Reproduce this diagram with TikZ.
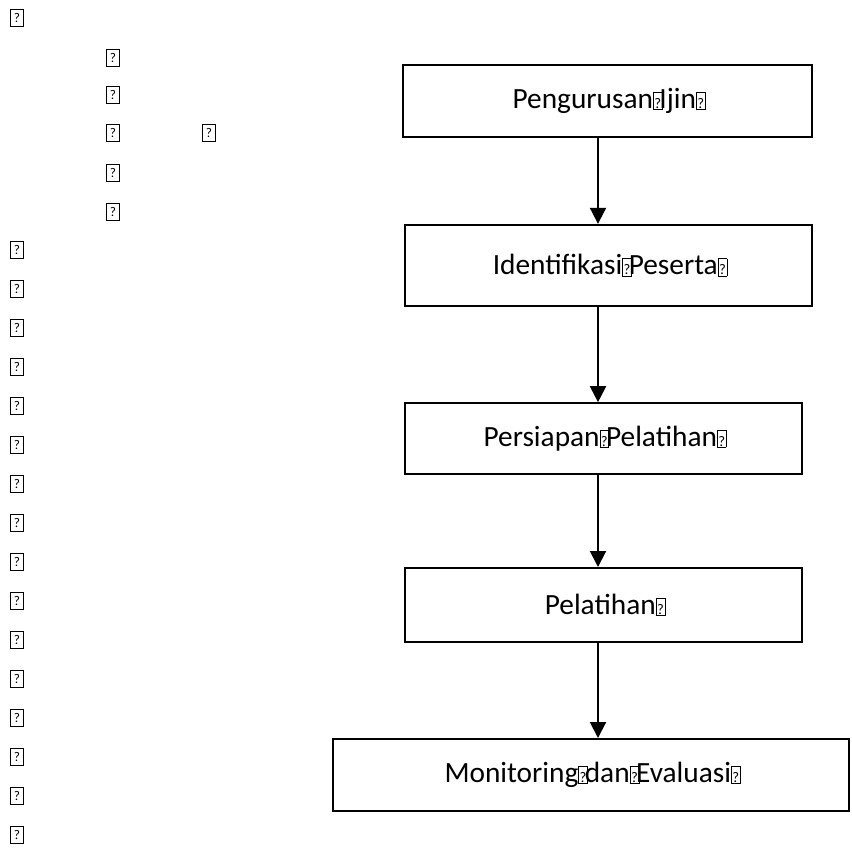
\documentclass[tikz,border=0pt]{standalone}
\usepackage{fontspec}
\setmainfont{Carlito}
\usetikzlibrary{arrows.meta}

% missing-glyph mark, as the picture prints it
\newcommand{\qmark}{\makebox[0.22em][l]{\setlength{\fboxsep}{0.5pt}\setlength{\fboxrule}{0.5pt}\fbox{\rule{0pt}{11.5pt}\fontsize{11}{11}\selectfont ?}}}

\tikzset{
  stepbox/.style={draw,line width=1.5pt,inner sep=0pt,font=\fontsize{22}{26}\selectfont},
  qglyph/.style={draw,line width=0.6pt,inner sep=0pt,minimum width=10pt,minimum height=13pt,font=\fontsize{10}{10}\selectfont},
  flow/.style={-{Triangle[width=12pt,length=12pt]},line width=1.5pt}
}

\begin{document}
\begin{tikzpicture}[x=0.75pt,y=-0.75pt]
  \useasboundingbox (0,0) rectangle (852,849);
  % stray glyphs, top left
  \node[qglyph] (q0) at (17,18) {?};
  \foreach \i/\y in {1/58,2/95,3/133,4/173,5/212}
    \node[qglyph] (t\i) at (113,\y) {?};
  \node[qglyph] (t6) at (209,133) {?};
  % stray glyphs, left column
  \foreach \i in {0,...,15}
    \node[qglyph] (l\i) at (17,{250+\i*39}) {?};
  % flow steps
  \node[stepbox,minimum width=307pt,minimum height=54pt] (ijin) at (607.5,101) {Pengurusan\qmark Ijin\qmark};
  \node[stepbox,minimum width=305pt,minimum height=61pt] (peserta) at (608.5,265.5) {Identifikasi\qmark Peserta\qmark};
  \node[stepbox,minimum width=298pt,minimum height=53pt] (persiapan) at (603.5,438.5) {Persiapan\qmark Pelatihan\qmark};
  \node[stepbox,minimum width=298pt,minimum height=55.5pt] (pelatihan) at (603.5,605) {Pelatihan\qmark};
  \node[stepbox,minimum width=387pt,minimum height=54pt] (monev) at (591,775) {Monitoring\qmark dan\qmark Evaluasi\qmark};
  % arrows
  \coordinate (ax) at (598,0);
  \draw[flow] (ijin.south -| ax) -- (peserta.north -| ax);
  \draw[flow] (peserta.south -| ax) -- (persiapan.north -| ax);
  \draw[flow] (persiapan.south -| ax) -- (pelatihan.north -| ax);
  \draw[flow] (pelatihan.south -| ax) -- (monev.north -| ax);
\end{tikzpicture}
\end{document}
